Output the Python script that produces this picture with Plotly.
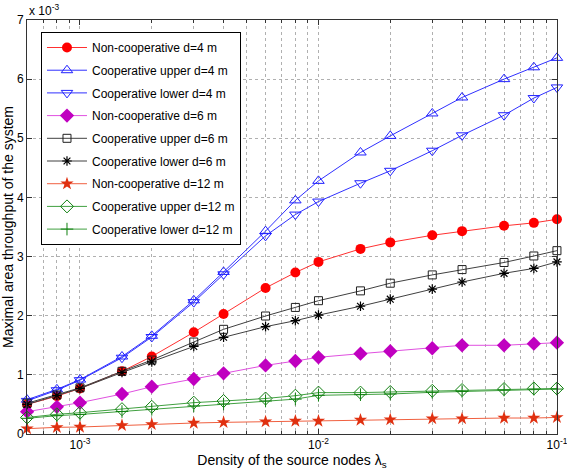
import plotly.graph_objects as go

x_density = [6e-4, 8e-4, 1e-3, 1.5e-3, 2e-3, 3e-3, 4e-3, 6e-3, 8e-3,
             1e-2, 1.5e-2, 2e-2, 3e-2, 4e-2, 6e-2, 8e-2, 1e-1]

# values in units of 1e-3
noncoop_d4 = [0.50, 0.64, 0.77, 1.06, 1.31, 1.72, 2.03, 2.47, 2.73,
              2.91, 3.13, 3.24, 3.36, 3.43, 3.52, 3.57, 3.63]
coop_upper_d4 = [0.58, 0.755, 0.92, 1.31, 1.66, 2.26, 2.74, 3.43, 3.95,
                 4.28, 4.76, 5.04, 5.42, 5.69, 6.00, 6.20, 6.36]
coop_lower_d4 = [0.56, 0.74, 0.91, 1.29, 1.64, 2.23, 2.70, 3.35, 3.71,
                 3.93, 4.24, 4.45, 4.79, 5.05, 5.39, 5.68, 5.86]
noncoop_d6 = [0.377, 0.46, 0.53, 0.676, 0.80, 0.93, 1.026, 1.16, 1.234,
              1.297, 1.358, 1.40, 1.45, 1.50, 1.50, 1.527, 1.544]
coop_upper_d6 = [0.52, 0.66, 0.78, 1.06, 1.25, 1.555, 1.77, 1.995, 2.14,
                 2.254, 2.42, 2.55, 2.69, 2.78, 2.90, 3.01, 3.10]
coop_lower_d6 = [0.50, 0.65, 0.77, 1.04, 1.22, 1.48, 1.635, 1.815, 1.916,
                 2.01, 2.16, 2.28, 2.45, 2.57, 2.717, 2.80, 2.91]
noncoop_d12 = [0.09, 0.113, 0.118, 0.146, 0.163, 0.186, 0.197, 0.208, 0.22,
               0.22, 0.237, 0.242, 0.259, 0.259, 0.27, 0.27, 0.28]
coop_upper_d12 = [0.28, 0.333, 0.36, 0.42, 0.46, 0.53, 0.558, 0.60, 0.648,
                  0.70, 0.70, 0.71, 0.73, 0.744, 0.76, 0.77, 0.77]
coop_lower_d12 = [0.265, 0.31, 0.33, 0.38, 0.417, 0.475, 0.507, 0.558, 0.59,
                  0.654, 0.665, 0.676, 0.705, 0.72, 0.744, 0.757, 0.76]

series_names = ["Non-cooperative d=4 m", "Cooperative upper d=4 m", "Cooperative lower d=4 m",
                "Non-cooperative d=6 m", "Cooperative upper d=6 m", "Cooperative lower d=6 m",
                "Non-cooperative d=12 m", "Cooperative upper d=12 m", "Cooperative lower d=12 m"]
series_values = [noncoop_d4, coop_upper_d4, coop_lower_d4,
                 noncoop_d6, coop_upper_d6, coop_lower_d6,
                 noncoop_d12, coop_upper_d12, coop_lower_d12]

x_major_ticks = [1e-3, 1e-2, 1e-1]
x_major_labels = ["10<sup>-3</sup>", "10<sup>-2</sup>", "10<sup>-1</sup>"]
x_minor_ticks = [k * 10.0 ** e for e in (-4, -3, -2) for k in range(2, 10) if 6e-4 <= k * 10.0 ** e <= 0.1]
y_ticks = [0, 1, 2, 3, 4, 5, 6, 7]

styles = [
    dict(line_color="#ff3030", marker=dict(symbol="circle", size=10, color="#ff0000", line=dict(width=0))),
    dict(line_color="#3030ff", marker=dict(symbol="triangle-up-open", size=10, color="#2020ff", line=dict(width=1))),
    dict(line_color="#3030ff", marker=dict(symbol="triangle-down-open", size=10, color="#2020ff", line=dict(width=1))),
    dict(line_color="#e050e0", marker=dict(symbol="diamond", size=11, color="#c000c0", line=dict(width=0))),
    dict(line_color="#404040", marker=dict(symbol="square-open", size=8, color="#202020", line=dict(width=1))),
    dict(line_color="#404040", marker=dict(symbol="asterisk-open", size=8, color="#000000", line=dict(width=1.2))),
    dict(line_color="#f06040", marker=dict(symbol="star", size=10, color="#e03010", line=dict(width=0))),
    dict(line_color="#40a040", marker=dict(symbol="diamond-open", size=10, color="#108010", line=dict(width=1))),
    dict(line_color="#40a040", marker=dict(symbol="cross-thin-open", size=9, color="#108010", line=dict(width=1))),
]

fig = go.Figure()
for i, (name, vals, st) in enumerate(zip(series_names, series_values, styles)):
    fig.add_trace(go.Scatter(
        x=x_density, y=vals, name=name, mode="lines+markers",
        line=dict(color=st["line_color"], width=1),
        marker=st["marker"], legendgroup=f"g{i}", cliponaxis=False,
    ))

axis_font = dict(family="Liberation Sans, Arial, sans-serif", size=12, color="#000000")

fig.update_layout(
    width=567, height=474,
    margin=dict(l=27, r=10, t=20, b=40),
    paper_bgcolor="white", plot_bgcolor="white",
    font=axis_font,
    showlegend=True,
    legend=dict(x=0.0264, y=0.971, xanchor="left", yanchor="top",
                bgcolor="white", bordercolor="#000000", borderwidth=1,
                font=dict(family="Liberation Sans, Arial, sans-serif", size=12, color="#000000"),
                tracegroupgap=3.7, itemwidth=40),
    xaxis=dict(
        type="log", range=[-3.2222, -0.9998], automargin=False,
        tickmode="array", tickvals=x_major_ticks, ticktext=x_major_labels,
        ticklabeloverflow="allow",
        ticks="inside", ticklen=5, tickcolor="#333333",
        showline=True, linecolor="#333333", linewidth=1, mirror="ticks",
        showgrid=True, gridcolor="#b0b0b0", griddash="dot", gridwidth=1,
        minor=dict(tickmode="array", tickvals=x_minor_ticks, ticks="inside", ticklen=3,
                   tickcolor="#333333", showgrid=True, gridcolor="#b0b0b0", griddash="dot"),
        zeroline=False,
        title=dict(text="Density of the source nodes λ<sub>s</sub>", standoff=2),
        tickfont=axis_font,
    ),
    yaxis=dict(
        range=[0, 7], automargin=False,
        tickmode="array", tickvals=y_ticks, ticktext=[str(v) for v in y_ticks],
        ticks="inside", ticklen=5, tickcolor="#333333",
        showline=True, linecolor="#333333", linewidth=1, mirror="ticks",
        showgrid=True, gridcolor="#b0b0b0", griddash="dot", gridwidth=1,
        zeroline=False,
        title=dict(text="Maximal area throughput of the system", standoff=0),
        tickfont=axis_font,
    ),
    annotations=[dict(text="x 10<sup>-3</sup>", xref="paper", yref="paper", x=0.0, y=1.0,
                      xanchor="left", yanchor="bottom", showarrow=False, font=axis_font)],
)

fig.write_html("out.html", config={"displayModeBar": False},
               post_script="document.body.style.margin='0px';")
